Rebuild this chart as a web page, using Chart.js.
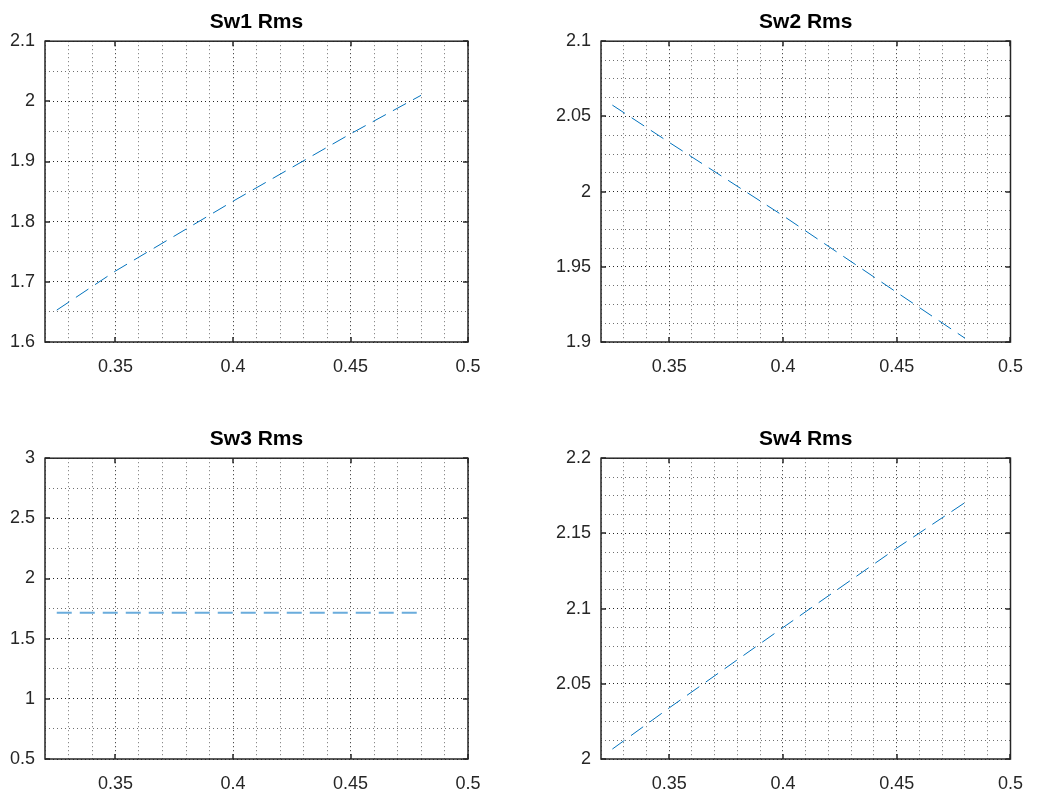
<!DOCTYPE html>
<html>
<head>
<meta charset="utf-8">
<script src="https://cdn.jsdelivr.net/npm/chart.js@4.4.0/dist/chart.umd.min.js"></script>
<style>
  body { margin: 0; background: #fff; }
  #wrap { position: relative; width: 1037px; height: 795px; background: #fff; }
  canvas { position: absolute; }
</style>
</head>
<body>
<div id="wrap">
  <canvas id="c1" width="518" height="397" style="left:0;top:0"></canvas>
  <canvas id="c2" width="519" height="397" style="left:518px;top:0"></canvas>
  <canvas id="c3" width="518" height="378" style="left:0;top:417px"></canvas>
  <canvas id="c4" width="519" height="378" style="left:518px;top:417px"></canvas>
</div>
<script>
// values
const xValues = [0.325, 0.35, 0.4, 0.45, 0.48];
const sw1Rms = [1.653, 1.718, 1.834, 1.946, 2.01];
const sw2Rms = [2.0575, 2.0327, 1.984, 1.933, 1.9025];
const sw3Rms = [1.715, 1.715, 1.715, 1.715, 1.715];
const sw4Rms = [2.0066, 2.034, 2.0874, 2.1402, 2.1705];

// major tick labels
const xTicks = [0.35, 0.4, 0.45, 0.5];
const sw1Ticks = [1.6, 1.7, 1.8, 1.9, 2, 2.1];
const sw2Ticks = [1.9, 1.95, 2, 2.05, 2.1];
const sw3Ticks = [0.5, 1, 1.5, 2, 2.5, 3];
const sw4Ticks = [2, 2.05, 2.1, 2.15, 2.2];

const FONT = "'Liberation Sans', Arial, Helvetica, sans-serif";

function gridTicks(min, max, step) {
    const n = Math.round((max - min) / step);
    const out = [];
    for (let i = 0; i <= n; i++) out.push({ value: +(min + i * step).toFixed(6) });
    return out;
}

function isMajor(v, majors) {
    return majors.some(m => Math.abs(m - v) < 1e-7);
}

// box around the axes plus inward tick marks, matlab style
const framePlugin = {
    id: 'frame',
    afterDraw(chart, args, opts) {
        const { ctx, chartArea: a, scales } = chart;
        ctx.save();
        ctx.strokeStyle = '#262626';
        ctx.lineWidth = 1.5;
        ctx.strokeRect(a.left, a.top, a.right - a.left, a.bottom - a.top);
        const len = 5;
        ctx.beginPath();
        xTicks.forEach(v => {
            const px = Math.round(scales.x.getPixelForValue(v));
            ctx.moveTo(px, a.bottom); ctx.lineTo(px, a.bottom - len);
            ctx.moveTo(px, a.top); ctx.lineTo(px, a.top + len);
        });
        opts.yTicks.forEach(v => {
            const py = Math.round(scales.y.getPixelForValue(v));
            ctx.moveTo(a.left, py); ctx.lineTo(a.left + len, py);
            ctx.moveTo(a.right, py); ctx.lineTo(a.right - len, py);
        });
        ctx.stroke();
        ctx.restore();
    }
};

function makeChart(id, title, values, yTicks, yStep, cfg) {
    const yMin = yTicks[0], yMax = yTicks[yTicks.length - 1];
    const gridColor = majors => c => isMajor(c.tick.value, majors) ? '#262626' : '#707070';

    return new Chart(document.getElementById(id), {
        type: 'line',
        data: {
            labels: xValues,
            datasets: [{
                data: xValues.map((x, i) => ({ x: x, y: values[i] })),
                borderColor: cfg.color || '#0072BD',
                borderWidth: cfg.width || 1,
                borderDash: [15, 8],
                pointRadius: 0,
                tension: 0,
                fill: false
            }]
        },
        options: {
            responsive: false,
            animation: false,
            layout: { padding: { right: cfg.padRight, top: 0, left: 0, bottom: 0 } },
            plugins: {
                legend: { display: false },
                tooltip: { enabled: false },
                title: {
                    display: true,
                    text: title,
                    fullSize: false,
                    color: '#000',
                    font: { family: FONT, size: 21, weight: 'bold' },
                    padding: { top: 10, bottom: 6 }
                },
                frame: { yTicks: yTicks }
            },
            scales: {
                x: {
                    type: 'linear',
                    min: 0.32,
                    max: 0.5,
                    afterBuildTicks: s => { s.ticks = gridTicks(0.32, 0.5, 0.01); },
                    afterFit: s => { s.height = cfg.xHeight; },
                    grid: { color: gridColor(xTicks), lineWidth: 1, drawTicks: false },
                    border: { display: false, dash: [1, 3] },
                    ticks: {
                        autoSkip: false,
                        maxRotation: 0,
                        minRotation: 0,
                        padding: 14,
                        color: '#262626',
                        font: { family: FONT, size: 18 },
                        callback: v => isMajor(v, xTicks) ? String(+v.toFixed(4)) : ''
                    }
                },
                y: {
                    type: 'linear',
                    min: yMin,
                    max: yMax,
                    afterBuildTicks: s => { s.ticks = gridTicks(yMin, yMax, yStep); },
                    afterFit: s => { s.width = cfg.yWidth; },
                    grid: { color: gridColor(yTicks), lineWidth: 1, drawTicks: false },
                    border: { display: false, dash: [1, 3] },
                    ticks: {
                        autoSkip: false,
                        padding: 10,
                        color: '#262626',
                        font: { family: FONT, size: 18 },
                        callback: v => isMajor(v, yTicks) ? String(+v.toFixed(4)) : ''
                    }
                }
            }
        },
        plugins: [framePlugin]
    });
}

makeChart('c1', 'Sw1 Rms', sw1Rms, sw1Ticks, 0.05, { yWidth: 45, xHeight: 55, padRight: 50 });
makeChart('c2', 'Sw2 Rms', sw2Rms, sw2Ticks, 0.0125, { yWidth: 83, xHeight: 55, padRight: 15 });
makeChart('c3', 'Sw3 Rms', sw3Rms, sw3Ticks, 0.25, { yWidth: 45, xHeight: 36, padRight: 50, color: '#6aacdc', width: 2 });
makeChart('c4', 'Sw4 Rms', sw4Rms, sw4Ticks, 0.0125, { yWidth: 83, xHeight: 36, padRight: 15 });
</script>
</body>
</html>
